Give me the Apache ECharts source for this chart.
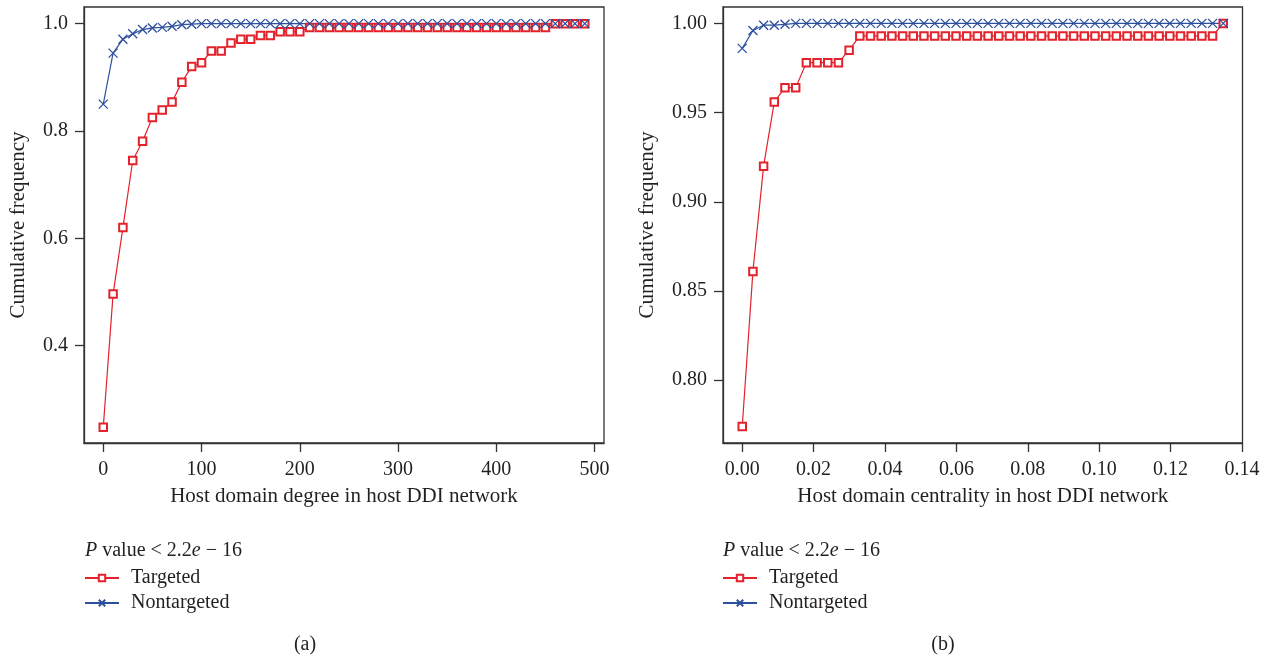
<!DOCTYPE html>
<html><head><meta charset="utf-8">
<script src="https://cdn.jsdelivr.net/npm/echarts@6/dist/echarts.min.js"></script>
<style>html,body{margin:0;padding:0;background:#fff}#c{width:1265px;height:657px}</style>
</head><body><div id="c"></div>
<script>
// ---- Panel (a): degree ----
const degreeX = [0,10,20,30,40,50,60,70,80,90,100,110,120,130,140,150,160,170,180,190,200,210,220,230,240,250,260,270,280,290,300,310,320,330,340,350,360,370,380,390,400,410,420,430,440,450,460,470,480,490];
const degreeTargeted = [0.248,0.496,0.620,0.745,0.781,0.825,0.839,0.854,0.891,0.920,0.927,0.949,0.949,0.964,0.971,0.971,0.978,0.978,0.985,0.985,0.985,0.993,0.993,0.993,0.993,0.993,0.993,0.993,0.993,0.993,0.993,0.993,0.993,0.993,0.993,0.993,0.993,0.993,0.993,0.993,0.993,0.993,0.993,0.993,0.993,0.993,1.0,1.0,1.0,1.0];
const degreeNontargeted = [0.850,0.945,0.971,0.981,0.989,0.992,0.993,0.995,0.998,0.999,1.0,1.0,1.0,1.0,1.0,1.0,1.0,1.0,1.0,1.0,1.0,1.0,1.0,1.0,1.0,1.0,1.0,1.0,1.0,1.0,1.0,1.0,1.0,1.0,1.0,1.0,1.0,1.0,1.0,1.0,1.0,1.0,1.0,1.0,1.0,1.0,1.0,1.0,1.0,1.0];
const degreeXTicks = [0,100,200,300,400,500];
const degreeYTicks = [0.4,0.6,0.8,1.0];

// ---- Panel (b): centrality ----
const centralityX = [0,0.002995,0.00599,0.008985,0.01198,0.014975,0.01797,0.020965,0.02396,0.026955,0.02995,0.032945,0.03594,0.038935,0.04193,0.044925,0.04792,0.050915,0.05391,0.056905,0.0599,0.062895,0.06589,0.068885,0.07188,0.074875,0.07787,0.080865,0.08386,0.086855,0.08985,0.092845,0.09584,0.098835,0.10183,0.104825,0.10782,0.110815,0.11381,0.116805,0.1198,0.122795,0.12579,0.128785,0.13178,0.134775];
const centralityTargeted = [0.774,0.861,0.920,0.956,0.964,0.964,0.978,0.978,0.978,0.978,0.985,0.993,0.993,0.993,0.993,0.993,0.993,0.993,0.993,0.993,0.993,0.993,0.993,0.993,0.993,0.993,0.993,0.993,0.993,0.993,0.993,0.993,0.993,0.993,0.993,0.993,0.993,0.993,0.993,0.993,0.993,0.993,0.993,0.993,0.993,1.0];
const centralityNontargeted = [0.986,0.996,0.999,0.999,0.9995,1.0,1.0,1.0,1.0,1.0,1.0,1.0,1.0,1.0,1.0,1.0,1.0,1.0,1.0,1.0,1.0,1.0,1.0,1.0,1.0,1.0,1.0,1.0,1.0,1.0,1.0,1.0,1.0,1.0,1.0,1.0,1.0,1.0,1.0,1.0,1.0,1.0,1.0,1.0,1.0,1.0];
const centralityXTicks = [0,0.02,0.04,0.06,0.08,0.10,0.12,0.14];
const centralityYTicks = [0.80,0.85,0.90,0.95,1.00];

const seriesNames = ['Targeted','Nontargeted'];
const pText = '{i|P} value < 2.2{i|e} \u2212 16';
const yTitle = 'Cumulative frequency';
const xTitleA = 'Host domain degree in host DDI network';
const xTitleB = 'Host domain centrality in host DDI network';

const RED = '#e3222b';
const BLUE = '#2d4f9e';
const INK = '#231f20';
const FRAME = '#333333';
const FONT = 'Liberation Serif';
const CROSS = 'path://M0,0L10,10M10,0L0,10';

function pairs(xs, ys){ return xs.map((x,i)=>[x, ys[i]]); }

function xAxis(grid, min, max, ticks, dec, name){
  return {
    type:'value', gridIndex:grid, min:min, max:max,
    axisLine:{show:true, onZero:false, lineStyle:{color:FRAME, width:1.3}},
    axisTick:{show:true, inside:false, length:9, customValues:ticks, lineStyle:{color:FRAME, width:1.3}},
    axisLabel:{customValues:ticks, formatter:v=>v.toFixed(dec), margin:17, fontSize:20, fontFamily:FONT, color:INK},
    splitLine:{show:false},
    name:name, nameLocation:'middle', nameGap:43,
    nameTextStyle:{fontSize:21, fontFamily:FONT, color:INK}
  };
}
function yAxis(grid, min, max, ticks, dec, gap){
  return {
    type:'value', gridIndex:grid, min:min, max:max,
    axisLine:{show:true, onZero:false, lineStyle:{color:FRAME, width:1.3}},
    axisTick:{show:true, inside:false, length:9, customValues:ticks, lineStyle:{color:FRAME, width:1.3}},
    axisLabel:{customValues:ticks, formatter:v=>v.toFixed(dec), margin:16, fontSize:20, fontFamily:FONT, color:INK},
    splitLine:{show:false},
    name:yTitle, nameLocation:'middle', nameGap:gap,
    nameTextStyle:{fontSize:21, fontFamily:FONT, color:INK}
  };
}
function redSeries(xi, data){
  return {name:seriesNames[0], type:'line', xAxisIndex:xi, yAxisIndex:xi, data:data,
    symbol:'emptyRect', symbolSize:7.5, showAllSymbol:true,
    lineStyle:{color:RED, width:1.2}, itemStyle:{color:RED, borderWidth:1.2}, emphasis:{disabled:true}};
}
function blueSeries(xi, data){
  return {name:seriesNames[1], type:'line', xAxisIndex:xi, yAxisIndex:xi, data:data,
    symbol:CROSS, symbolSize:9, showAllSymbol:true,
    lineStyle:{color:BLUE, width:1.2}, itemStyle:{color:BLUE, borderColor:BLUE, borderWidth:1.3}, emphasis:{disabled:true}};
}
function legend(left){
  return {data:seriesNames, orient:'vertical', left:left, top:563, itemWidth:34, itemHeight:8, itemGap:5,
    selectedMode:false,
    textStyle:{fontSize:20, fontFamily:FONT, color:INK, padding:[0,0,0,7]}};
}
function ptext(x){
  return {type:'text', x:x, y:551, style:{text:pText, fontSize:20, fontFamily:FONT, fill:INK, verticalAlign:'middle',
    rich:{i:{fontStyle:'italic', fontSize:20, fontFamily:FONT, fill:INK}}}};
}
function sub(x, t){
  return {type:'text', x:x, y:645, style:{text:t, fontSize:20, fontFamily:FONT, fill:INK, align:'center', verticalAlign:'middle'}};
}

const chart = echarts.init(document.getElementById('c'), null, {renderer:'canvas'});
chart.setOption({
  animation:false,
  backgroundColor:'#fff',
  grid:[
    {left:84, top:7, width:520, height:436, show:true, borderColor:FRAME, borderWidth:1.3, containLabel:false},
    {left:723, top:7, width:519.5, height:436, show:true, borderColor:FRAME, borderWidth:1.3, containLabel:false}
  ],
  xAxis:[
    xAxis(0, -19.6, 509.6, degreeXTicks, 0, xTitleA),
    xAxis(1, -0.00539, 0.14017, centralityXTicks, 2, xTitleB)
  ],
  yAxis:[
    yAxis(0, 0.2185, 1.031, degreeYTicks, 1, 55),
    yAxis(1, 0.7648, 1.0092, centralityYTicks, 2, 65)
  ],
  legend:[legend(79), legend(717)],
  series:[
    redSeries(0, pairs(degreeX, degreeTargeted)),
    blueSeries(0, pairs(degreeX, degreeNontargeted)),
    redSeries(1, pairs(centralityX, centralityTargeted)),
    blueSeries(1, pairs(centralityX, centralityNontargeted))
  ],
  graphic:[ptext(85), ptext(723), sub(305,'(a)'), sub(943,'(b)')]
});
</script></body></html>
